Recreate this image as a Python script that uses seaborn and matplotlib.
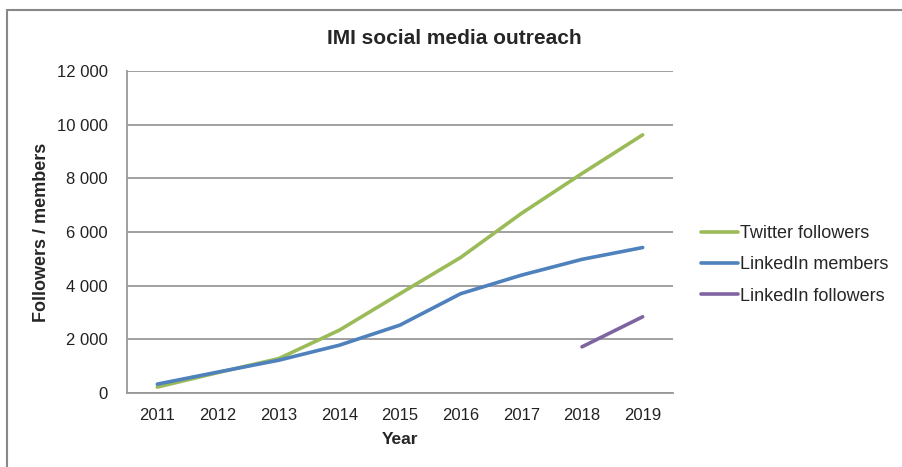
import numpy as np
import pandas as pd
import matplotlib
matplotlib.use("Agg")
import matplotlib.pyplot as plt
from matplotlib.ticker import FuncFormatter, MultipleLocator, FixedLocator
import seaborn as sns

years = [2011, 2012, 2013, 2014, 2015, 2016, 2017, 2018, 2019]
twitter = [220, 760, 1280, 2340, 3700, 5050, 6690, 8180, 9620]
linkedin_members = [330, 780, 1220, 1780, 2530, 3700, 4390, 4980, 5420]
li_years = [2018, 2019]
linkedin_followers = [1720, 2840]

df = pd.concat([
    pd.DataFrame({"Year": years, "value": twitter, "series": "Twitter followers"}),
    pd.DataFrame({"Year": years, "value": linkedin_members, "series": "LinkedIn members"}),
    pd.DataFrame({"Year": li_years, "value": linkedin_followers, "series": "LinkedIn followers"}),
])
palette = {"Twitter followers": "#9BBB59",
           "LinkedIn members": "#4F81BD",
           "LinkedIn followers": "#8064A2"}

sns.set_style("white")
plt.rcParams['font.family'] = ['Liberation Sans', 'DejaVu Sans']

fig = plt.figure(figsize=(9.03, 4.67), dpi=100)
ax = fig.add_axes([0.1406, 0.1585, 0.6047, 0.6895])

sns.lineplot(data=df, x="Year", y="value", hue="series", palette=palette,
             linewidth=2.6, ax=ax, legend=False)

ax.set_xlim(2010.5, 2019.5)
ax.set_ylim(0, 12000)
ax.yaxis.set_major_locator(MultipleLocator(2000))
ax.yaxis.set_major_formatter(FuncFormatter(lambda v, p: f"{int(v):,}".replace(",", " ")))
ax.xaxis.set_major_locator(FixedLocator(years))
ax.xaxis.set_minor_locator(FixedLocator(np.arange(2010.5, 2020, 1.0)))
ax.tick_params(axis="x", which="major", length=0, labelsize=12, pad=11, colors="#222222")
ax.tick_params(axis="x", which="minor", length=6, width=1.2, color="#999999", direction="out")
ax.tick_params(axis="y", which="major", length=6, width=1.2, color="#999999", direction="out",
               labelsize=12, labelcolor="#222222", pad=8)

ax.grid(axis="y", color="#999999", linewidth=1.3)
ax.set_axisbelow(True)
for s in ["top", "right"]:
    ax.spines[s].set_visible(False)
for s in ["left", "bottom"]:
    ax.spines[s].set_color("#999999")
    ax.spines[s].set_linewidth(1.3)

ax.set_xlabel("Year", fontsize=12.5, fontweight="bold", labelpad=6)
ax.set_ylabel("Followers / members", fontsize=13, fontweight="bold", labelpad=5)
fig.suptitle("IMI social media outreach", x=0.503, y=0.937, fontsize=15, fontweight="bold")

handles = [plt.Line2D([], [], color=palette[k], linewidth=2.6) for k in palette]
fig.legend(handles, list(palette.keys()), loc="center left", bbox_to_anchor=(0.758, 0.433),
           frameon=False, fontsize=13, handlelength=2.05, handletextpad=0.15, labelspacing=0.8)

# thin frame on the top and left edge of the picture
fig.add_artist(plt.Line2D([7 / 903, 1], [1 - 10 / 467, 1 - 10 / 467], color="#888888",
                          linewidth=1.5, transform=fig.transFigure))
fig.add_artist(plt.Line2D([7 / 903, 7 / 903], [0, 1 - 10 / 467], color="#888888",
                          linewidth=1.5, transform=fig.transFigure))

fig.savefig("out.png", dpi=100)
